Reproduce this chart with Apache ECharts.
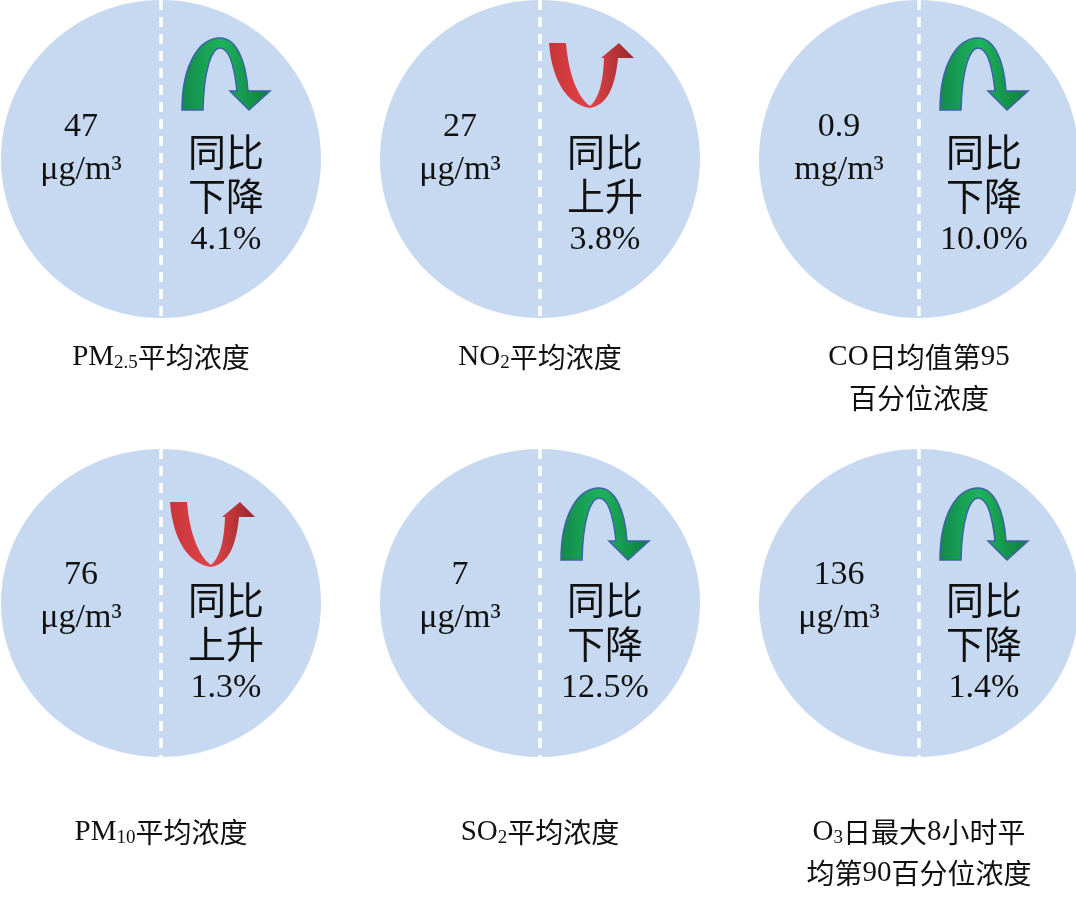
<!DOCTYPE html>
<html><head><meta charset="utf-8">
<script src="https://cdn.jsdelivr.net/npm/echarts@6/dist/echarts.min.js"></script>
<style>html,body{margin:0;padding:0;background:#fff}#c{width:1076px;height:899px}</style>
</head><body><div id="c"></div>
<script>
const values = ['47','27','0.9','76','7','136'];
const units = ['μg/m³','μg/m³','mg/m³','μg/m³','μg/m³','μg/m³'];
const directions = ['down','up','down','up','down','down'];
const changes = ['4.1%','3.8%','10.0%','1.3%','12.5%','1.4%'];
const labels = [
  ['{t|PM}{s|2.5}{c|平均浓度}'],
  ['{t|NO}{s|2}{c|平均浓度}'],
  ['{t|CO}{c|日均值第}{t|95}', '{c|百分位浓度}'],
  ['{t|PM}{s|10}{c|平均浓度}'],
  ['{t|SO}{s|2}{c|平均浓度}'],
  ['{t|O}{s|3}{c|日最大}{t|8}{c|小时平}', '{c|均第}{t|90}{c|百分位浓度}']
];
const cxs = [161, 540, 919];
const rows = [{cy:159, ry:159, off:0, green:38, red:43, lab:357}, {cy:603, ry:154, off:448, green:488, red:502, lab:832}];
const serif = '"Liberation Serif","Times New Roman",serif';
const sans = '"Noto Sans CJK SC",sans-serif';
const G = [];
const greenPath = 'M0,72 C0,25 18,0 38,0 C54,0 64,22 66,53 L88,53 L67,72 L48,53 L55,53 C52,25 46,10 38,10 C30,10 22,30 21,72 Z';
const redPath = 'M0,0 L17,0 C20,35 30,55 41,63 C50,55 54,40 55,15 L52,15 L70,0 L85,15 L69,15 C66,45 58,62 41,65 C20,62 3,40 0,0 Z';
const greenFill = {type:'linear',x:0,y:0,x2:1,y2:0,colorStops:[{offset:0,color:'#12894a'},{offset:0.45,color:'#1db35c'},{offset:1,color:'#0d7d3d'}]};
const redFill = {type:'linear',x:0,y:0,x2:1,y2:0,colorStops:[{offset:0,color:'#c9353a'},{offset:0.5,color:'#e04448'},{offset:1,color:'#94272b'}]};
for (let i = 0; i < 6; i++) {
  const r = rows[Math.floor(i/3)], cx = cxs[i%3];
  G.push({type:'ellipse', shape:{cx:cx, cy:r.cy, rx:160, ry:r.ry}, style:{fill:'#c7d9f0'}, z:1});
  G.push({type:'line', shape:{x1:cx, y1:r.cy-r.ry, x2:cx, y2:r.cy+r.ry}, style:{stroke:'#fff', lineWidth:3.5, lineDash:[10,7]}, z:2});
  const o = r.off;
  G.push({type:'text', x:cx-80, y:127+o, z:3, style:{text:values[i], font:'34px '+serif, fill:'#111', align:'center', verticalAlign:'middle'}});
  G.push({type:'text', x:cx-80, y:170+o, z:3, style:{text:units[i], font:'34px '+serif, fill:'#111', align:'center', verticalAlign:'middle'}});
  G.push({type:'text', x:cx+65, y:152+o, z:3, style:{text:'同比', font:'38px '+sans, fill:'#111', align:'center', verticalAlign:'middle'}});
  G.push({type:'text', x:cx+65, y:196+o, z:3, style:{text:directions[i]==='down'?'下降':'上升', font:'38px '+sans, fill:'#111', align:'center', verticalAlign:'middle'}});
  G.push({type:'text', x:cx+65, y:240+o, z:3, style:{text:changes[i], font:'34px '+serif, fill:'#111', align:'center', verticalAlign:'middle'}});
  labels[i].forEach((ln, k) => {
    G.push({type:'text', x:cx, y:r.lab+k*41, z:3, style:{text:ln, align:'center', verticalAlign:'middle',
      rich:{t:{font:'29px '+serif, fill:'#111'}, s:{font:'19px '+serif, fill:'#111', padding:[12,0,0,0]}, c:{font:'28px '+sans, fill:'#111'}}}});
  });
}
const chart = echarts.init(document.getElementById('c'));
chart.setOption({animation:false, graphic:{elements:G},
  series:[{type:'custom', coordinateSystem:'none', z:10, data:directions.map((d,i)=>[i]),
    renderItem:function(params, api){
      const i = api.value(0), r = rows[Math.floor(i/3)], cx = cxs[i%3];
      if (directions[i]==='down') {
        return {type:'path', x:cx+21, y:r.green, shape:{pathData:greenPath, layout:'cover', x:0,y:0,width:88,height:72},
          style:{fill:greenFill, stroke:'#3c62a8', lineWidth:1.5}};
      }
      return {type:'path', x:cx+9, y:r.red, shape:{pathData:redPath, layout:'cover', x:0,y:0,width:85,height:65},
        style:{fill:redFill}};
    }}]});
</script></body></html>
